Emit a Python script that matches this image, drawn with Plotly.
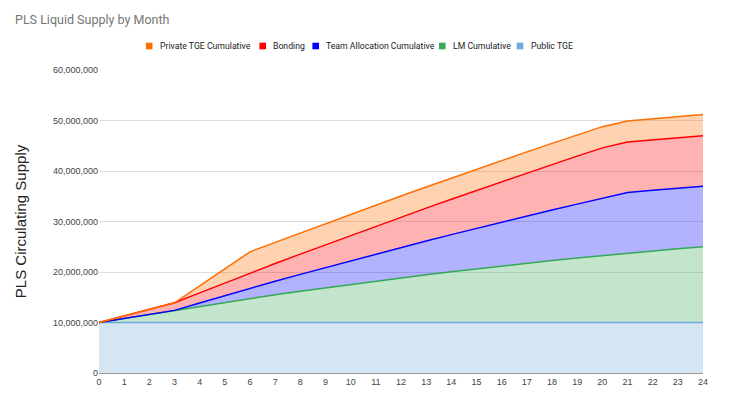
import plotly.graph_objects as go

months = list(range(25))

public_tge = [10.0] * 25
lm_cumulative = [0.0, 0.8, 1.6, 2.4, 3.2, 4.0, 4.8, 5.5, 6.2, 6.88, 7.55, 8.21, 8.85,
                 9.47, 10.07, 10.65, 11.21, 11.75, 12.27, 12.77, 13.25, 13.72, 14.17, 14.6, 15.0]
team_cumulative = [0.0, 0.0, 0.0, 0.0, 0.67, 1.33, 2.0, 2.67, 3.33, 4.0, 4.67, 5.33, 6.0,
                   6.67, 7.33, 8.0, 8.67, 9.33, 10.0, 10.67, 11.33, 12.0, 12.0, 12.0, 12.0]
bonding = [0.0, 0.5, 1.0, 1.5, 2.0, 2.5, 3.0, 3.5, 4.0, 4.5, 5.0, 5.5, 6.0,
           6.5, 7.0, 7.5, 8.0, 8.5, 9.0, 9.5, 10.0, 10.0, 10.0, 10.0, 10.0]
private_tge = [0.0, 0.0, 0.0, 0.0, 1.4, 2.8, 4.2, 4.2, 4.2, 4.2, 4.2, 4.2, 4.2,
               4.2, 4.2, 4.2, 4.2, 4.2, 4.2, 4.2, 4.2, 4.2, 4.2, 4.2, 4.2]

series = [
    ("Public TGE", public_tge, "#6fa8dc", "rgba(111,168,220,0.3)"),
    ("LM Cumulative", lm_cumulative, "#34a853", "rgba(52,168,83,0.3)"),
    ("Team Allocation Cumulative", team_cumulative, "#0000ff", "rgba(0,0,255,0.3)"),
    ("Bonding", bonding, "#ff0000", "rgba(255,0,0,0.3)"),
    ("Private TGE Cumulative", private_tge, "#ff6d01", "rgba(255,109,1,0.3)"),
]

# page layout (the html body adds an 8px margin)
BODY = 8
W, H = 731, 397
PL, PR, PT, PB = 99, 703, 70, 373  # plot area edges in page pixels


def px_x(x):
    return (x - PL) / (PR - PL)


def px_y(y):
    return (PB - y) / (PB - PT)


fig = go.Figure()
for name, vals, line_c, fill_c in series:
    fig.add_trace(go.Scatter(
        x=months, y=[v * 1_000_000 for v in vals], name=name,
        mode="lines", stackgroup="one",
        line=dict(color=line_c, width=1.5),
        fillcolor=fill_c, showlegend=False,
    ))

# compact legend drawn as squares + text (Sheets style), reversed order
legend_x = [149.2, 262.7, 315.7, 442.3, 520.0]
legend_y = 46
shapes, annotations = [], []
for (name, vals, line_c, fill_c), lx in zip(reversed(series), legend_x):
    shapes.append(dict(type="rect", xref="paper", yref="paper",
                       x0=px_x(lx - 3.3), x1=px_x(lx + 3.3),
                       y0=px_y(legend_y + 3.3), y1=px_y(legend_y - 3.3),
                       fillcolor=line_c, line=dict(width=0)))
    annotations.append(dict(text=name, xref="paper", yref="paper",
                            x=px_x(lx + 8.5), y=px_y(legend_y), xanchor="left",
                            yanchor="middle", showarrow=False,
                            font=dict(family="Roboto, Arial", size=8.7, color="#222222")))

fig.update_layout(
    width=W, height=H,
    margin=dict(l=PL - BODY, r=W - (PR - BODY), t=PT - BODY, b=H - (PB - BODY),
                autoexpand=False),
    paper_bgcolor="white", plot_bgcolor="white",
    title=dict(text="PLS Liquid Supply by Month", x=(15 - BODY) / W, xanchor="left",
               xref="container", yref="container", y=1 - (20 - BODY) / H, yanchor="middle",
               font=dict(family="Roboto, Arial", size=12.5, color="#757575")),
    font=dict(family="Liberation Sans, Arial", size=10, color="#444444"),
    showlegend=False,
    shapes=shapes,
    annotations=annotations,
)
fig.update_xaxes(range=[0, 24], tickmode="linear", dtick=1, showgrid=False,
                 showline=True, linecolor="#999999", linewidth=1, ticks="",
                 tickfont=dict(size=9, color="#444444"), zeroline=False, automargin=False)
fig.update_yaxes(range=[0, 60_000_000], tickvals=[0, 10e6, 20e6, 30e6, 40e6, 50e6, 60e6],
                 ticktext=["0", "10,000,000", "20,000,000", "30,000,000", "40,000,000",
                           "50,000,000", "60,000,000"],
                 showgrid=True, gridcolor="#dddddd", gridwidth=1, zeroline=False,
                 tickfont=dict(size=9, color="#444444"), automargin=False,
                 title=dict(text="PLS Circulating Supply", standoff=22,
                            font=dict(family="Liberation Sans, Arial", size=15, color="#222222")))

fig.write_html("out.html")
